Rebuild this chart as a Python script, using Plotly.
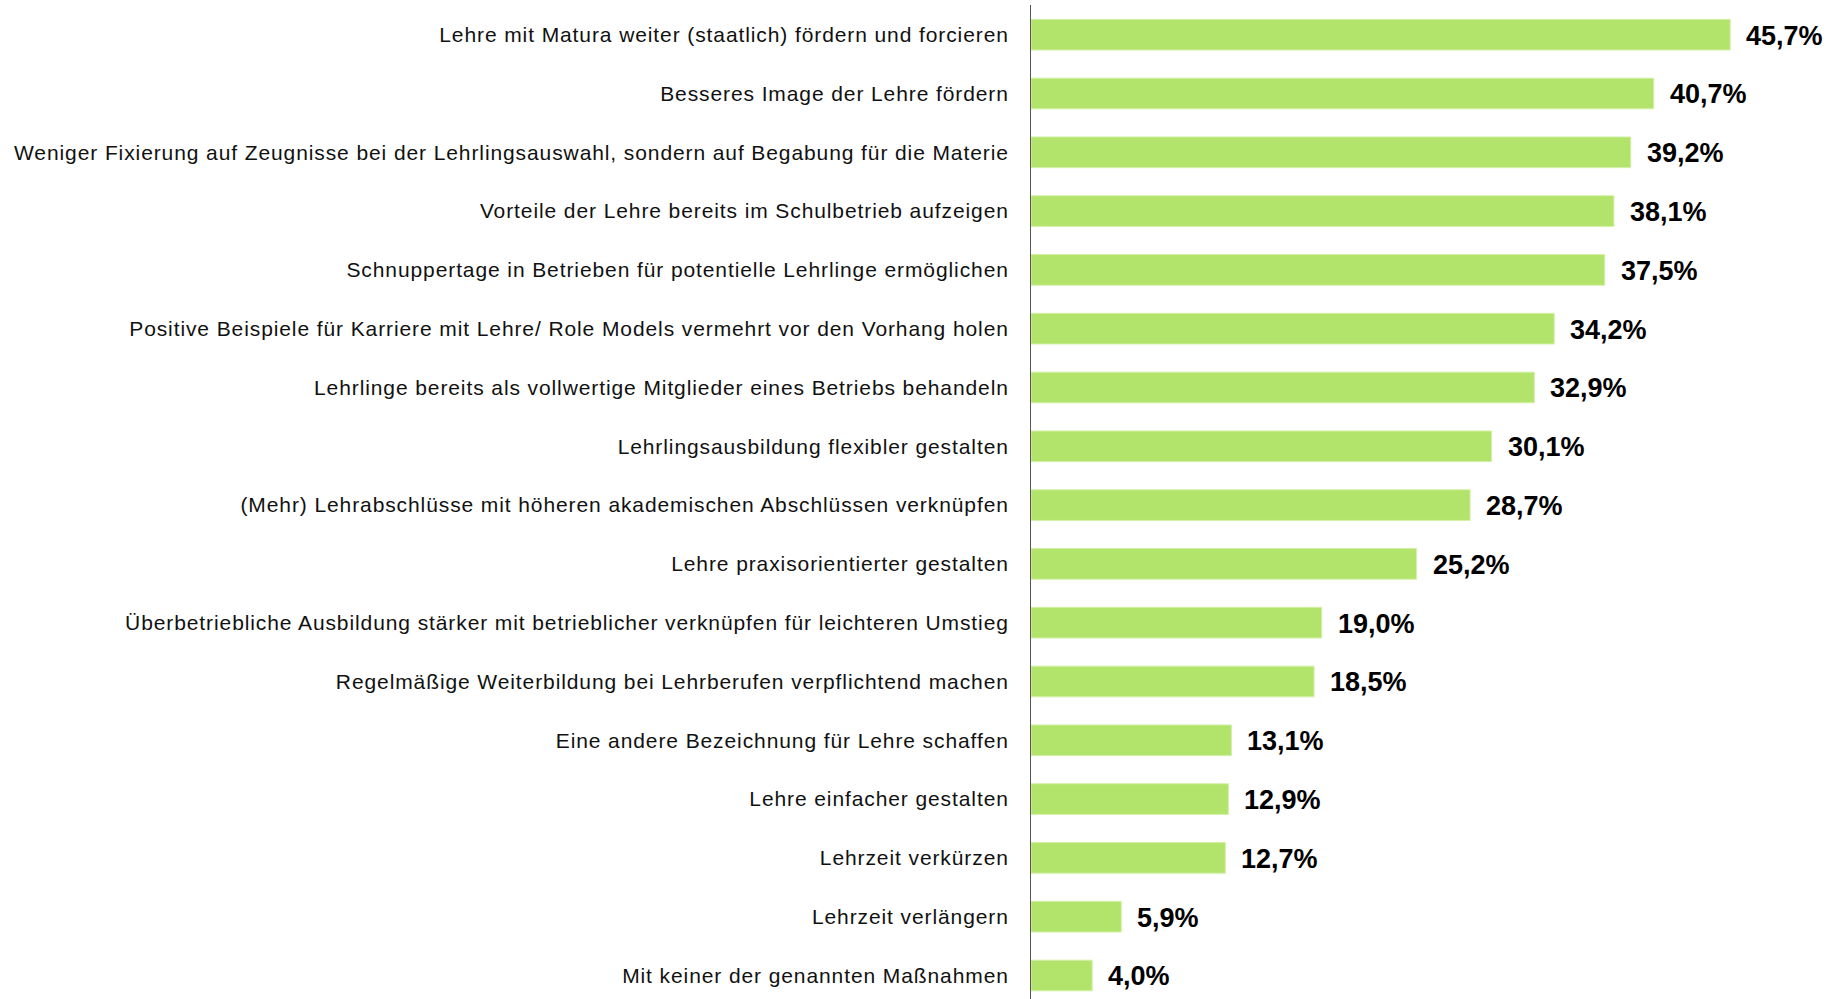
import plotly.graph_objects as go

# Survey answers (top to bottom) and their shares in percent
measures = [
    "Lehre mit Matura weiter (staatlich) fördern und forcieren",
    "Besseres Image der Lehre fördern",
    "Weniger Fixierung auf Zeugnisse bei der Lehrlingsauswahl, sondern auf Begabung für die Materie",
    "Vorteile der Lehre bereits im Schulbetrieb aufzeigen",
    "Schnuppertage in Betrieben für potentielle Lehrlinge ermöglichen",
    "Positive Beispiele für Karriere mit Lehre/ Role Models vermehrt vor den Vorhang holen",
    "Lehrlinge bereits als vollwertige Mitglieder eines Betriebs behandeln",
    "Lehrlingsausbildung flexibler gestalten",
    "(Mehr) Lehrabschlüsse mit höheren akademischen Abschlüssen verknüpfen",
    "Lehre praxisorientierter gestalten",
    "Überbetriebliche Ausbildung stärker mit betrieblicher verknüpfen für leichteren Umstieg",
    "Regelmäßige Weiterbildung bei Lehrberufen verpflichtend machen",
    "Eine andere Bezeichnung für Lehre schaffen",
    "Lehre einfacher gestalten",
    "Lehrzeit verkürzen",
    "Lehrzeit verlängern",
    "Mit keiner der genannten Maßnahmen",
]
shares = [45.7, 40.7, 39.2, 38.1, 37.5, 34.2, 32.9, 30.1, 28.7, 25.2,
          19.0, 18.5, 13.1, 12.9, 12.7, 5.9, 4.0]

labels = [f"{v:.1f}".replace(".", ",") + "%" for v in shares]

FONT = "Liberation Sans, Arial, sans-serif"

fig = go.Figure(
    go.Bar(
        x=shares,
        y=measures,
        orientation="h",
        marker=dict(color="#B2E46B", line=dict(color="#D4F0A8", width=1)),
        hoverinfo="skip",
    )
)

# value labels just right of each bar end
for m, v, t in zip(measures, shares, labels):
    fig.add_annotation(
        x=v, y=m, text=f"<b>{t}</b>", showarrow=False,
        xanchor="left", yanchor="middle", xshift=14, yshift=-1,
        font=dict(family=FONT, size=27, color="#000000"),
    )

fig.update_layout(
    width=1841,
    height=999,
    margin=dict(l=1031, r=0, t=5, b=0),
    paper_bgcolor="white",
    plot_bgcolor="white",
    bargap=0.478,
    showlegend=False,
    font=dict(family=FONT, size=21, color="#111111"),
    xaxis=dict(
        range=[0, 52.94], visible=False, showgrid=False, zeroline=False, fixedrange=True,
    ),
    yaxis=dict(
        type="category",
        categoryorder="array",
        categoryarray=measures,
        range=[16.40, -0.505],
        showgrid=False,
        zeroline=False,
        showline=True,
        linecolor="#555555",
        linewidth=1,
        ticks="",
        ticklabelstandoff=17,
        tickfont=dict(family=FONT, size=21, color="#111111"),
        automargin=False,
        fixedrange=True,
    ),
)

# slightly wider tracking for the category labels
css = (
    "var s=document.createElement('style');"
    "s.textContent='.ytick text{letter-spacing:0.9px;}';"
    "document.head.appendChild(s);"
)

fig.write_html("out.html", post_script=css)
